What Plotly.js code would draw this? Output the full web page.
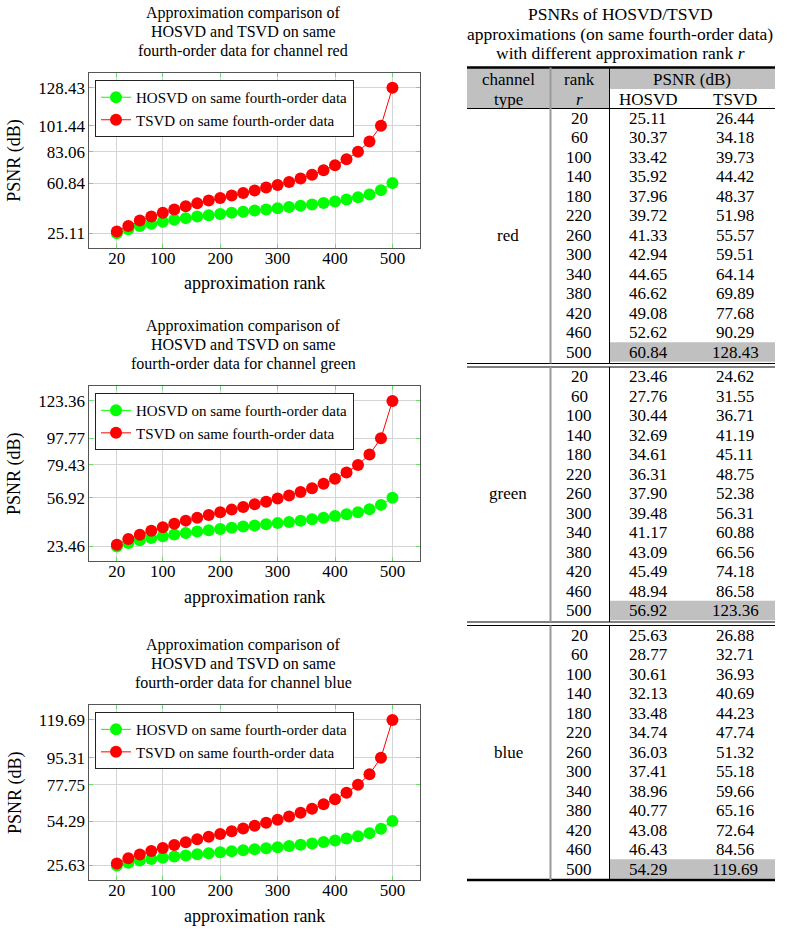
<!DOCTYPE html>
<html>
<head>
<meta charset="utf-8">
<script src="https://cdn.plot.ly/plotly-3.0.1.min.js"></script>
<style>
  body { margin: 0; padding: 0; background: #fff; }
  #chart { width: 796px; height: 930px; }
</style>
</head>
<body>
<div id="chart"></div>
<script>
var serif = '"Liberation Serif", "Times New Roman", serif';

// approximation ranks (markers every 20, table every 40)
var ranks = [20, 40, 60, 80, 100, 120, 140, 160, 180, 200, 220, 240, 260,
	280, 300, 320, 340, 360, 380, 400, 420, 440, 460, 480, 500];

var redHosvd = [25.11, 28.0, 30.37, 32.0, 33.42, 34.7, 35.92, 37.0, 37.96, 38.9, 39.72, 40.5, 41.33,
	42.1, 42.94, 43.8, 44.65, 45.6, 46.62, 47.8, 49.08, 50.7, 52.62, 55.8, 60.84];
var redTsvd = [26.44, 30.4, 34.18, 37.0, 39.73, 42.1, 44.42, 46.4, 48.37, 50.2, 51.98, 53.7, 55.57,
	57.6, 59.51, 61.6, 64.14, 66.7, 69.89, 73.4, 77.68, 83.06, 90.29, 101.44, 128.43];

var greenHosvd = [23.46, 25.9, 27.76, 29.3, 30.44, 31.6, 32.69, 33.7, 34.61, 35.5, 36.31, 37.1, 37.90,
	38.7, 39.48, 40.3, 41.17, 42.1, 43.09, 44.3, 45.49, 47.0, 48.94, 52.0, 56.92];
var greenTsvd = [24.62, 28.6, 31.55, 34.2, 36.71, 39.0, 41.19, 43.2, 45.11, 46.9, 48.75, 50.5, 52.38,
	54.2, 56.31, 58.4, 60.88, 63.4, 66.56, 69.9, 74.18, 79.43, 86.58, 97.77, 123.36];

var blueHosvd = [25.63, 27.3, 28.77, 29.8, 30.61, 31.4, 32.13, 32.8, 33.48, 34.1, 34.74, 35.4, 36.03,
	36.7, 37.41, 38.2, 38.96, 39.8, 40.77, 41.8, 43.08, 44.5, 46.43, 49.3, 54.29];
var blueTsvd = [26.88, 30.3, 32.71, 35.0, 36.93, 38.9, 40.69, 42.5, 44.23, 46.0, 47.74, 49.5, 51.32,
	53.2, 55.18, 57.3, 59.66, 62.3, 65.16, 68.5, 72.64, 77.75, 84.56, 95.31, 119.69];

var channels = ["red", "green", "blue"];
var hosvd = [redHosvd, greenHosvd, blueHosvd];
var tsvd = [redTsvd, greenTsvd, blueTsvd];

var redTicks = [25.11, 60.84, 83.06, 101.44, 128.43];
var greenTicks = [23.46, 56.92, 79.43, 97.77, 123.36];
var blueTicks = [25.63, 54.29, 77.75, 95.31, 119.69];
var yTicks = [redTicks, greenTicks, blueTicks];
var xTicks = [20, 100, 200, 300, 400, 500];

var W = 796, H = 930;
function px(x) { return x / W; }
function py(y) { return 1 - y / H; }

// plot boxes in pixels
var plotL = 89.3, plotR = 420;
var plotTop = [73.3, 386.4, 705.4];
var plotH = 174.6;

var data = [];
var layout = {
	width: W,
	height: H,
	margin: {l: 0, r: 0, t: 0, b: 0},
	paper_bgcolor: "#fff",
	plot_bgcolor: "rgba(0,0,0,0)",
	font: {family: serif, color: "#000"},
	showlegend: true,
	annotations: [],
	shapes: []
};

for (var k = 0; k < 3; k++) {
	var sfx = k === 0 ? "" : String(k + 1);
	var lg = "legend" + sfx;

	data.push({
		type: "scatter", mode: "lines+markers",
		x: ranks, y: hosvd[k],
		xaxis: "x" + sfx, yaxis: "y" + sfx, legend: lg,
		name: "HOSVD on same fourth-order data",
		line: {color: "#00ff00", width: 1},
		marker: {color: "#00ff00", size: 12}
	});
	data.push({
		type: "scatter", mode: "lines+markers",
		x: ranks, y: tsvd[k],
		xaxis: "x" + sfx, yaxis: "y" + sfx, legend: lg,
		name: "TSVD on same fourth-order data",
		line: {color: "#ff0000", width: 1},
		marker: {color: "#ff0000", size: 12}
	});

	var lo = Math.min.apply(null, hosvd[k].concat(tsvd[k]));
	var hi = Math.max.apply(null, hosvd[k].concat(tsvd[k]));
	var pad = 0.1 * (hi - lo);

	layout["xaxis" + sfx] = {
		domain: [px(plotL), px(plotR)],
		anchor: "y" + sfx,
		range: [-28, 548],
		tickvals: xTicks,
		ticks: "inside", ticklen: 4, tickcolor: "#66e066", tickwidth: 1,
		ticklabelstandoff: -5,
		showline: true, mirror: "allticks", linecolor: "#555", linewidth: 1,
		showgrid: true, gridcolor: "#d4d4d4", gridwidth: 1,
		zeroline: false,
		tickfont: {family: serif, size: 17, color: "#000"},
		title: {text: "approximation rank", font: {family: serif, size: 18, color: "#000"}, standoff: 9}
	};
	layout["yaxis" + sfx] = {
		domain: [py(plotTop[k] + plotH), py(plotTop[k])],
		anchor: "x" + sfx,
		range: [lo - pad, hi + pad],
		tickvals: yTicks[k],
		tickformat: ".2f",
		ticks: "inside", ticklen: 4, tickcolor: "#66e066", tickwidth: 1,
		showline: true, mirror: "allticks", linecolor: "#555", linewidth: 1,
		showgrid: true, gridcolor: "#d4d4d4", gridwidth: 1,
		zeroline: false,
		tickfont: {family: serif, size: 17, color: "#000"},
		title: {text: "PSNR (dB)", font: {family: serif, size: 18, color: "#000"}, standoff: 12}
	};
	layout[lg] = {
		x: px(95), y: py(plotTop[k] + 6.7),
		xanchor: "left", yanchor: "top",
		bgcolor: "#fff", bordercolor: "#222", borderwidth: 1,
		font: {family: serif, size: 15, color: "#000"},
		tracegroupgap: 0
	};

	// title, three lines
	var tlines = ["Approximation comparison of", "HOSVD and TSVD on same",
		"fourth-order data for channel " + channels[k]];
	for (var t = 0; t < 3; t++) {
		layout.annotations.push({
			xref: "paper", yref: "paper", x: px(243), y: py(plotTop[k] - 60.5 + t * 19),
			xanchor: "center", yanchor: "middle", showarrow: false,
			text: tlines[t], font: {family: serif, size: 16, color: "#000"}
		});
	}
}

// ---- table on the right, drawn on a hidden pixel axis ----
data.push({type: "scatter", x: [], y: [], xaxis: "x4", yaxis: "y4", showlegend: false, hoverinfo: "skip"});
layout.xaxis4 = {domain: [0, 1], range: [0, W], visible: false, anchor: "y4", fixedrange: true};
layout.yaxis4 = {domain: [0, 1], range: [H, 0], visible: false, anchor: "x4", fixedrange: true};

var tL = 467, tR = 775, c1 = 550.5, c2 = 609.5;
var colX = [508, 579, 648, 735];
var headTop = 67.5, headMid = 89, headBot = 108.5;
var row0 = 118, rowH = 19.5, blockH = 258.5, bottomRule = 880;
var gray = "#c0c0c0";

function txt(x, y, s, size) {
	layout.annotations.push({
		xref: "x4", yref: "y4", x: x, y: y, xanchor: "center", yanchor: "middle",
		showarrow: false, text: s, font: {family: serif, size: size || 17, color: "#000"}
	});
}
function rect(x0, y0, x1, y1, col) {
	layout.shapes.push({type: "rect", xref: "x4", yref: "y4", x0: x0, y0: y0, x1: x1, y1: y1,
		fillcolor: col, line: {width: 0}, layer: "below"});
}
function hline(x0, x1, y, w, col) {
	layout.shapes.push({type: "line", xref: "x4", yref: "y4", x0: x0, x1: x1, y0: y, y1: y,
		line: {color: col || "#000", width: w}});
}
function vline(x, y0, y1, w, col) {
	layout.shapes.push({type: "line", xref: "x4", yref: "y4", x0: x, x1: x, y0: y0, y1: y1,
		line: {color: col || "#000", width: w}});
}

// table title
var ttl = ["PSNRs of HOSVD/TSVD", "approximations (on same fourth-order data)",
	"with different approximation rank <i>r</i>"];
for (var t = 0; t < 3; t++) txt(620, 14 + t * 19.5, ttl[t], 17.5);

// header
rect(tL, headTop, tR, headMid, gray);
rect(tL, headMid, c2, headBot, gray);
txt(colX[0], 79, "channel");
txt(colX[0], 99, "type");
txt(colX[1], 79, "rank");
txt(colX[1], 99, "<i>r</i>");
txt((c2 + tR) / 2, 79, "PSNR (dB)");
txt(colX[2], 99, "HOSVD");
txt(colX[3], 99, "TSVD");
hline(tL, tR, headTop, 2.5);
hline(tL, tR, headBot, 1);

var segTop = headTop;
for (var b = 0; b < 3; b++) {
	var start = row0 + b * blockH;
	var n = 0;
	for (var i = 0; i < ranks.length; i += 2) {
		var y = start + n * rowH;
		if (i === ranks.length - 1) rect(c2, y - rowH / 2, tR, y + rowH / 2, gray);
		txt(colX[1], y, String(ranks[i]));
		txt(colX[2], y, hosvd[b][i].toFixed(2));
		txt(colX[3], y, tsvd[b][i].toFixed(2));
		n++;
	}
	txt(colX[0], start + 6 * rowH, channels[b]);
	var end;
	if (b < 2) {
		end = start + 12 * rowH + 11.5;
		hline(tL, tR, end, 1);
		hline(tL, tR, end + 3.5, 1);
	} else {
		end = bottomRule;
		hline(tL, tR, end, 2.5);
	}
	vline(c1, segTop, end, 2, "#999");
	vline(c2, segTop, end, 1, "#000");
	segTop = end + 3.5;
}

Plotly.newPlot("chart", data, layout, {displayModeBar: false, staticPlot: true});
</script>
</body>
</html>
